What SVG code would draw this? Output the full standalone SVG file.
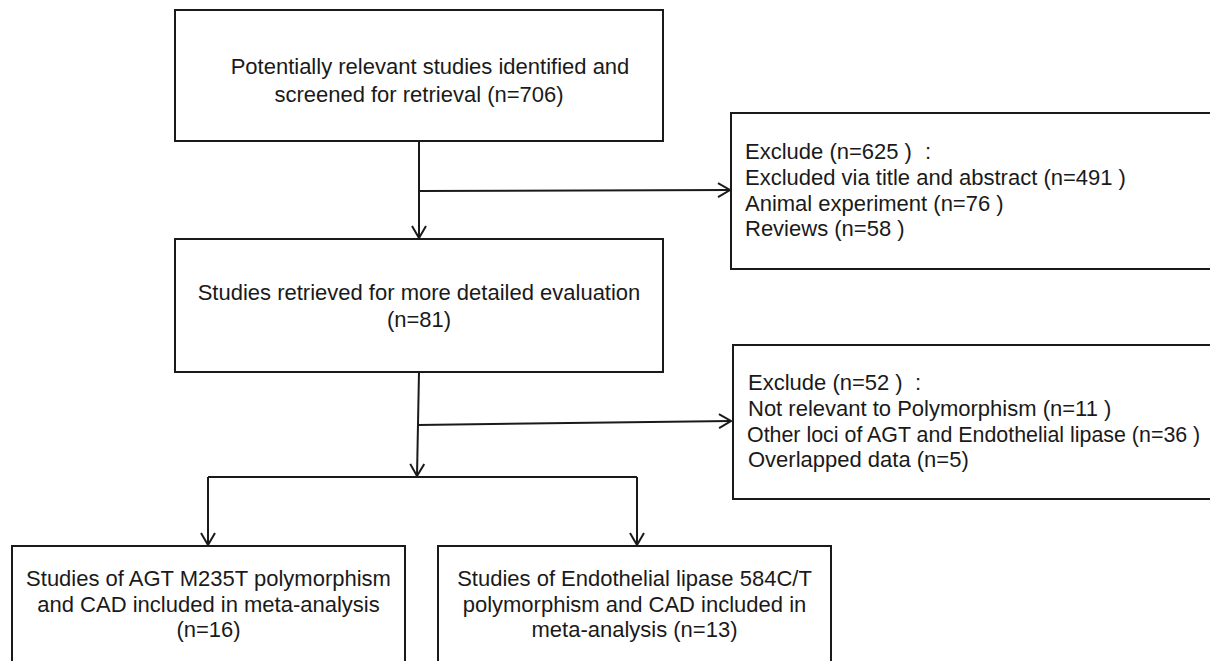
<svg xmlns="http://www.w3.org/2000/svg" width="1210" height="661" viewBox="0 0 1210 661">
<style>
.box{fill:#fff;stroke:#1a1a1a;stroke-width:2}
.t{font-family:"Liberation Sans",Arial,sans-serif;font-size:22px;fill:#1a1a1a}
.c{text-anchor:middle}
.ln{fill:none;stroke:#1a1a1a;stroke-width:2}
</style>
<defs>
<marker id="arr" markerWidth="16" markerHeight="16" refX="13" refY="8" orient="auto" markerUnits="userSpaceOnUse">
<path d="M1,1 L13,8 L1,15" fill="none" stroke="#1a1a1a" stroke-width="2"/>
</marker>
</defs>
<rect width="1210" height="661" fill="#fff"/>
<g id="connectors">
<line class="ln" x1="419" y1="141" x2="419" y2="238" marker-end="url(#arr)"/>
<line class="ln" x1="419" y1="191" x2="730" y2="190" marker-end="url(#arr)"/>
<line class="ln" x1="419" y1="372" x2="417" y2="476" marker-end="url(#arr)"/>
<line class="ln" x1="418" y1="425" x2="731" y2="421" marker-end="url(#arr)"/>
<line class="ln" x1="208" y1="477" x2="637" y2="477"/>
<line class="ln" x1="208" y1="477" x2="208" y2="545" marker-end="url(#arr)"/>
<line class="ln" x1="637" y1="477" x2="637" y2="545" marker-end="url(#arr)"/>
</g>
<g id="n1">
<rect class="box" x="175" y="10" width="488" height="131"/>
<text class="t c" x="430" y="74">Potentially relevant studies identified and</text>
<text class="t c" x="419" y="102">screened for retrieval (n=706)</text>
</g>
<g id="n2">
<rect class="box" x="175" y="239" width="488" height="133"/>
<text class="t c" x="419" y="300">Studies retrieved for more detailed evaluation</text>
<text class="t c" x="419" y="327">(n=81)</text>
</g>
<g id="ex1">
<rect class="box" x="731" y="113" width="490" height="156"/>
<text class="t" x="745" y="159">Exclude (n=625 )<tspan x="925">:</tspan></text>
<text class="t" x="745" y="185">Excluded via title and abstract (n=491 )</text>
<text class="t" x="745" y="211">Animal experiment (n=76 )</text>
<text class="t" x="745" y="236">Reviews (n=58 )</text>
</g>
<g id="ex2">
<rect class="box" x="733" y="345" width="490" height="154"/>
<text class="t" x="748" y="390">Exclude (n=52 )<tspan x="915">:</tspan></text>
<text class="t" x="748" y="416">Not relevant to Polymorphism (n=11 )</text>
<text class="t" x="747" y="442" style="font-size:21.4px">Other loci of AGT and Endothelial lipase (n=36 )</text>
<text class="t" x="748" y="467">Overlapped data (n=5)</text>
</g>
<g id="n3">
<rect class="box" x="12" y="546" width="393" height="130"/>
<text class="t c" x="208.5" y="586">Studies of AGT M235T polymorphism</text>
<text class="t c" x="208.5" y="612">and CAD included in meta-analysis</text>
<text class="t c" x="208.5" y="637">(n=16)</text>
</g>
<g id="n4">
<rect class="box" x="438" y="546" width="393" height="130"/>
<text class="t c" x="634.5" y="586">Studies of Endothelial lipase 584C/T</text>
<text class="t c" x="634.5" y="612">polymorphism and CAD included in</text>
<text class="t c" x="634.5" y="637">meta-analysis (n=13)</text>
</g>
</svg>
